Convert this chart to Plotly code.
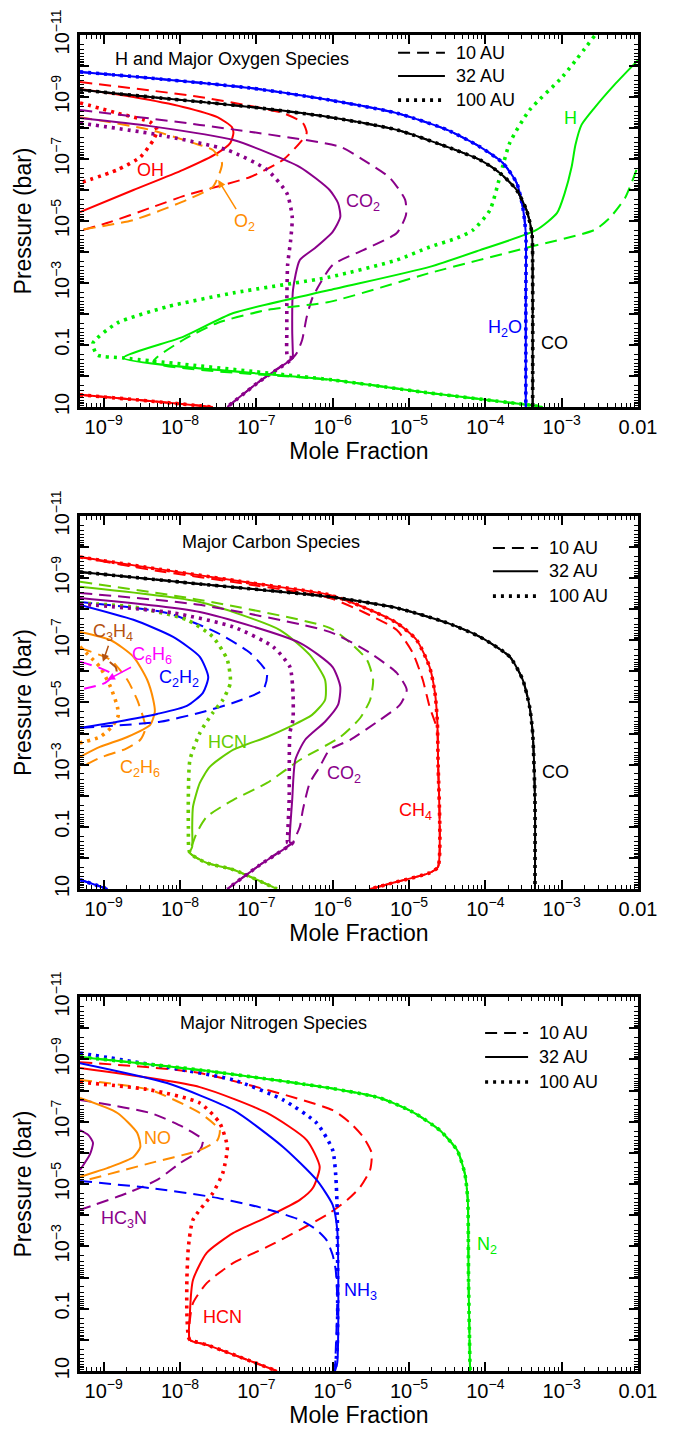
import plotly.graph_objects as go

# ------------------------------------------------------------------
# Vertical mixing-ratio profiles at 10, 32 and 100 AU.
# Each profile: list of (log10 mole fraction, log10 pressure [bar]).
# ------------------------------------------------------------------

# ---- Panel 1: H and major oxygen species ----
h2o_all = [(-9.31, -9.81), (-8.39, -9.61), (-7.08, -9.29), (-6.04, -8.90), (-5.16, -8.48),
           (-4.50, -7.94), (-4.07, -7.39), (-3.77, -6.87), (-3.59, -6.23), (-3.51, -5.45),
           (-3.47, -4.61), (-3.47, -2.45), (-3.47, 1.00)]
co_p1_all = [(-9.31, -9.23), (-8.39, -9.00), (-7.08, -8.68), (-6.04, -8.35), (-5.16, -7.94),
             (-4.50, -7.39), (-4.07, -6.97), (-3.81, -6.55), (-3.59, -6.00), (-3.46, -5.35),
             (-3.39, -4.61), (-3.38, -3.10), (-3.38, 1.00)]
oh_10 = [(-9.31, -9.48), (-7.74, -9.00), (-6.65, -8.48), (-6.39, -8.16), (-6.34, -7.84),
         (-6.43, -7.52), (-6.65, -6.97), (-7.08, -6.42), (-7.48, -6.13), (-7.91, -5.84),
         (-8.39, -5.42), (-8.91, -4.97), (-9.31, -4.68)]
oh_32 = [(-9.31, -9.26), (-8.61, -9.00), (-7.96, -8.68), (-7.51, -8.35), (-7.32, -8.03),
         (-7.30, -7.84), (-7.34, -7.52), (-7.51, -7.19), (-7.96, -6.65), (-8.61, -6.00),
         (-9.31, -5.29)]
oh_100 = [(-9.31, -8.81), (-8.82, -8.48), (-8.39, -8.19), (-8.30, -7.94), (-8.35, -7.61),
          (-8.52, -7.06), (-8.82, -6.65), (-9.31, -6.23)]
oh_deep = [(-9.31, 0.61), (-8.39, 0.81), (-7.57, 1.00)]
o2_10 = [(-9.31, -8.35), (-8.39, -7.94), (-7.83, -7.52), (-7.57, -7.29), (-7.45, -6.87),
         (-7.48, -6.55), (-7.57, -6.10), (-7.91, -5.68), (-8.61, -5.03), (-9.31, -4.71)]
co2_p1_10 = [(-9.31, -8.58), (-7.74, -8.10), (-5.90, -7.39), (-5.60, -6.97), (-5.25, -6.39),
             (-5.05, -5.68), (-5.04, -5.19), (-5.16, -4.61), (-5.60, -4.06), (-6.00, -3.58),
             (-6.26, -2.55), (-6.34, -1.90), (-6.40, -1.16), (-6.47, -0.74), (-6.52, -0.58)]
co2_p1_32 = [(-9.31, -8.32), (-8.39, -8.06), (-7.30, -7.61), (-6.43, -6.74), (-6.04, -6.00),
             (-5.93, -5.58), (-5.90, -5.13), (-6.00, -4.65), (-6.23, -4.13), (-6.43, -3.74),
             (-6.52, -2.77), (-6.53, -1.48), (-6.52, -0.61)]
co2_p1_100 = [(-9.31, -8.16), (-8.26, -7.77), (-7.38, -7.29), (-6.86, -6.65), (-6.60, -5.90),
              (-6.53, -5.13), (-6.55, -4.39), (-6.59, -3.58), (-6.60, -2.45), (-6.60, -1.48),
              (-6.59, -0.61)]
co2_p1_deep = [(-6.52, -0.58), (-6.95, 0.16), (-7.38, 1.00)]
h_10 = [(-2.02, -6.65), (-2.17, -5.74), (-2.37, -5.10), (-2.57, -4.71), (-3.42, -4.16),
        (-4.73, -3.32), (-6.04, -2.39), (-6.86, -2.13), (-7.51, -1.71), (-7.96, -1.16),
        (-8.35, -0.45)]
h_32 = [(-2.00, -10.19), (-2.31, -9.39), (-2.57, -8.65), (-2.74, -8.10), (-2.82, -7.45),
        (-2.87, -6.74), (-2.96, -5.90), (-3.06, -5.26), (-3.33, -4.71), (-4.07, -4.06),
        (-4.73, -3.52), (-6.04, -2.77), (-7.30, -2.03), (-7.96, -1.26), (-8.74, -0.58)]
h_100 = [(-2.57, -10.97), (-2.99, -9.65), (-3.42, -8.58), (-3.68, -7.52), (-3.81, -6.42),
         (-3.94, -5.35), (-4.16, -4.71), (-4.37, -4.45), (-4.73, -4.16), (-5.16, -3.74),
         (-6.04, -3.19), (-7.30, -2.68), (-8.17, -2.23), (-8.82, -1.71), (-9.14, -1.06),
         (-9.085, -0.68), (-8.74, -0.58)]
h_deep = [(-6.00, 0.13), (-4.73, 0.55), (-3.42, 0.94), (-3.25, 1.00)]

# ---- Panel 2: major carbon species ----
ch4_32_100 = [(-9.31, -9.68), (-8.39, -9.33), (-7.08, -8.85), (-6.04, -8.46), (-5.60, -8.07),
              (-5.16, -7.56), (-4.90, -7.01), (-4.73, -6.14), (-4.66, -5.31), (-4.63, -4.44),
              (-4.62, -3.15), (-4.62, 0.29), (-4.73, 0.48), (-5.16, 0.77), (-5.51, 1.00)]
ch4_10 = [(-9.31, -9.68), (-8.39, -9.27), (-7.08, -8.79), (-6.04, -8.36), (-5.60, -7.91),
          (-5.16, -7.33), (-4.95, -6.59), (-4.82, -5.73), (-4.73, -4.86), (-4.63, -4.12),
          (-4.62, -3.15), (-4.62, 0.29), (-4.73, 0.48), (-5.16, 0.77), (-5.51, 1.00)]
co_p2_all = [(-9.31, -9.20), (-7.74, -8.81), (-6.04, -8.40), (-5.16, -8.04), (-4.50, -7.56),
             (-4.07, -7.11), (-3.68, -6.47), (-3.51, -5.73), (-3.42, -4.86), (-3.38, -4.02),
             (-3.35, -1.87), (-3.35, 1.00)]
hcn_p2_10 = [(-9.31, -8.88), (-7.74, -8.30), (-6.04, -7.40), (-5.77, -6.92), (-5.55, -6.37),
             (-5.47, -5.73), (-5.51, -5.08), (-5.64, -4.50), (-5.90, -3.89), (-6.43, -3.15),
             (-6.86, -2.41), (-7.30, -1.87), (-7.65, -1.32), (-7.78, -0.81), (-7.83, -0.49),
             (-7.87, -0.16)]
hcn_p2_32 = [(-9.31, -8.72), (-7.74, -8.23), (-6.69, -7.33), (-6.30, -6.53), (-6.10, -5.73),
             (-6.10, -5.08), (-6.27, -4.60), (-6.56, -4.22), (-6.86, -3.89), (-7.30, -3.48),
             (-7.61, -2.93), (-7.74, -2.41), (-7.83, -1.64), (-7.84, -1.00), (-7.84, -0.36),
             (-7.87, -0.16)]
hcn_p2_100 = [(-9.31, -8.20), (-8.61, -8.07), (-7.91, -7.66), (-7.57, -7.11), (-7.38, -6.37),
              (-7.34, -5.63), (-7.44, -5.08), (-7.57, -4.67), (-7.74, -4.02), (-7.87, -3.15),
              (-7.89, -2.09), (-7.89, -1.00), (-7.87, -0.16)]
hcn_p2_deep = [(-7.65, 0.16), (-7.30, 0.38), (-6.73, 1.00)]
co2_p2_10 = [(-9.31, -8.52), (-7.74, -8.14), (-6.04, -7.27), (-5.51, -6.59), (-5.16, -5.95),
             (-5.03, -5.41), (-5.12, -4.92), (-5.38, -4.44), (-5.77, -3.80), (-6.04, -3.48),
             (-6.17, -2.93), (-6.30, -2.41), (-6.39, -1.55), (-6.43, -1.00), (-6.52, -0.49)]
co2_p2_32 = [(-9.31, -8.36), (-7.74, -7.91), (-6.43, -6.92), (-6.00, -6.14), (-5.90, -5.50),
             (-5.93, -4.92), (-6.10, -4.38), (-6.36, -3.80), (-6.49, -3.15), (-6.53, -1.87),
             (-6.56, -0.81), (-6.56, -0.49)]
co2_p2_100 = [(-9.31, -8.17), (-8.09, -7.88), (-7.30, -7.43), (-6.78, -6.79), (-6.56, -6.14),
              (-6.52, -5.31), (-6.52, -4.44), (-6.56, -4.02), (-6.57, -1.87), (-6.59, -0.68),
              (-6.59, -0.49)]
co2_p2_deep = [(-6.52, -0.49), (-6.95, 0.22), (-7.38, 1.00)]
c2h2_10 = [(-9.31, -8.23), (-8.17, -7.88), (-7.51, -7.24), (-7.08, -6.59), (-6.86, -5.95),
           (-6.91, -5.41), (-7.30, -4.99), (-7.74, -4.67), (-8.26, -4.38), (-8.88, -4.25),
           (-9.31, -4.18)]
c2h2_32 = [(-9.31, -8.14), (-8.61, -7.66), (-8.09, -7.11), (-7.74, -6.47), (-7.63, -5.82),
           (-7.70, -5.31), (-7.91, -4.89), (-8.30, -4.63), (-8.82, -4.38), (-9.31, -4.18)]
c2h2_deep = [(-9.31, 0.70), (-8.95, 1.00)]
c2h6_10 = [(-9.31, -6.75), (-8.91, -6.37), (-8.69, -5.73), (-8.56, -5.08), (-8.48, -4.50),
           (-8.45, -4.18), (-8.52, -3.80), (-8.71, -3.51), (-9.05, -3.22), (-9.31, -2.90)]
c2h6_32 = [(-9.31, -7.27), (-8.91, -7.01), (-8.61, -6.47), (-8.43, -5.73), (-8.35, -5.08),
           (-8.33, -4.70), (-8.39, -4.28), (-8.69, -3.89), (-9.05, -3.57), (-9.31, -3.25)]
c2h6_100 = [(-9.31, -6.79), (-9.05, -6.14), (-8.91, -5.50), (-8.82, -4.86), (-8.81, -4.57),
            (-8.89, -4.22), (-9.05, -3.89), (-9.31, -3.70)]
c3h4_10 = [(-8.92, -6.30), (-8.84, -6.12), (-8.83, -5.95), (-8.90, -5.80)]
c6h6_10 = [(-9.31, -6.31), (-9.05, -6.11), (-8.88, -5.89), (-8.98, -5.63), (-9.31, -5.41)]

# ---- Panel 3: major nitrogen species ----
n2_all = [(-9.31, -9.08), (-7.74, -8.66), (-6.04, -8.08), (-5.38, -7.76), (-4.95, -7.31),
          (-4.60, -6.73), (-4.37, -6.09), (-4.27, -5.35), (-4.23, -4.49), (-4.22, -1.92),
          (-4.20, 1.00)]
nh3_10 = [(-9.31, -5.10), (-8.39, -4.87), (-7.57, -4.58), (-7.08, -4.33), (-6.73, -4.10),
          (-6.43, -3.85), (-6.21, -3.53), (-6.08, -3.20), (-6.00, -2.72), (-5.96, -2.24),
          (-5.94, -1.28), (-5.97, 1.00)]
nh3_32 = [(-9.31, -8.88), (-8.17, -8.24), (-7.30, -7.37), (-6.65, -6.19), (-6.21, -5.13),
          (-6.00, -4.33), (-5.94, -3.53), (-5.94, 0.74), (-5.97, 1.00)]
nh3_100 = [(-9.31, -9.20), (-8.17, -8.75), (-7.30, -8.34), (-6.65, -7.70), (-6.21, -6.96),
           (-6.00, -6.09), (-5.96, -5.29), (-5.94, -4.07), (-5.94, 0.23), (-5.97, 1.00)]
hcn_p3_10 = [(-9.31, -8.91), (-7.74, -8.56), (-6.00, -7.37), (-5.77, -6.96), (-5.60, -6.51),
             (-5.49, -6.00), (-5.51, -5.45), (-5.64, -4.90), (-5.81, -4.49), (-6.04, -4.07),
             (-6.43, -3.53), (-6.86, -2.98), (-7.30, -2.47), (-7.65, -1.82), (-7.83, -1.18),
             (-7.87, -0.64), (-7.87, 0.00)]
hcn_p3_32 = [(-9.31, -8.72), (-7.74, -8.11), (-6.86, -7.28), (-6.34, -6.41), (-6.17, -5.55),
             (-6.26, -4.87), (-6.43, -4.49), (-6.86, -3.94), (-7.30, -3.43), (-7.65, -2.79),
             (-7.83, -1.92), (-7.87, -0.86), (-7.87, 0.00)]
hcn_p3_100 = [(-9.31, -8.27), (-8.39, -8.02), (-7.74, -7.60), (-7.48, -6.96), (-7.38, -6.19),
              (-7.44, -5.35), (-7.57, -4.71), (-7.83, -3.85), (-7.89, -2.98), (-7.91, -1.92),
              (-7.91, -0.86), (-7.89, -0.09), (-7.87, 0.00)]
hcn_p3_deep = [(-7.65, 0.16), (-6.73, 1.00)]
no_10 = [(-9.31, -8.34), (-8.39, -8.02), (-7.74, -7.28), (-7.48, -6.73), (-7.51, -6.41),
         (-7.74, -6.09), (-8.39, -5.67), (-9.31, -5.07)]
no_32 = [(-9.31, -7.76), (-8.82, -7.28), (-8.56, -6.64), (-8.52, -6.19), (-8.61, -5.87),
         (-8.91, -5.55), (-9.31, -5.23)]
hc3n_10 = [(-9.31, -7.70), (-8.39, -7.28), (-7.96, -6.83), (-7.70, -6.41), (-7.74, -6.09),
           (-8.00, -5.67), (-8.30, -5.13), (-8.69, -4.71), (-9.31, -4.17)]
hc3n_32 = [(-9.31, -6.73), (-9.20, -6.57), (-9.14, -6.32), (-9.18, -5.95), (-9.31, -5.45)]

# ---- axis ticks ----
x_tick_exp = [-9, -8, -7, -6, -5, -4, -3, -2]
x_tick_text = ["10<sup>\u22129</sup>", "10<sup>\u22128</sup>", "10<sup>\u22127</sup>",
               "10<sup>\u22126</sup>", "10<sup>\u22125</sup>", "10<sup>\u22124</sup>",
               "10<sup>\u22123</sup>", "0.01"]
y_tick_exp = list(range(-11, 2))
y_tick_text = ["10<sup>\u221211</sup>", "", "10<sup>\u22129</sup>", "", "10<sup>\u22127</sup>", "",
               "10<sup>\u22125</sup>", "", "10<sup>\u22123</sup>", "", "0.1", "", "10"]

# ---- colours and line styles ----
RED, BLUE, BLACK = "#ff0000", "#0000ff", "#000000"
GREEN, GREEN2 = "#00ee00", "#66cc00"
PURPLE, ORANGE = "#8a008a", "#ff8c00"
BROWN, MAGENTA = "#b5520f", "#ff00ff"
STYLES = {
    "10": dict(dash="12px,7px", width=2),
    "32": dict(dash="solid", width=2),
    "100": dict(dash="3px,5px", width=3.6),
}
FONT = "Liberation Sans, Arial, Helvetica, sans-serif"

fig = go.Figure()


def add(panel, pts, color, case):
    sfx = "" if panel == 1 else str(panel)
    fig.add_trace(go.Scatter(
        x=[10 ** a for a, _ in pts], y=[10 ** b for _, b in pts],
        mode="lines", line=dict(color=color, shape="spline", smoothing=0.6, **STYLES[case]),
        xaxis="x" + sfx, yaxis="y" + sfx, showlegend=False, hoverinfo="skip"))


def add_all(panel, pts, color):
    for case in ("32", "10", "100"):
        add(panel, pts, color, case)


# Panel 1
add_all(1, oh_deep, RED)
add(1, oh_10, RED, "10"); add(1, oh_32, RED, "32"); add(1, oh_100, RED, "100")
add(1, o2_10, ORANGE, "10")
add(1, co2_p1_10 + co2_p1_deep, PURPLE, "10")
add(1, co2_p1_32 + co2_p1_deep, PURPLE, "32")
add(1, co2_p1_100 + co2_p1_deep, PURPLE, "100")
add(1, h_10 + h_deep, GREEN, "10")
add(1, h_32 + h_deep, GREEN, "32")
add(1, h_100 + h_deep, GREEN, "100")
add_all(1, h2o_all, BLUE)
add_all(1, co_p1_all, BLACK)

# Panel 2
add_all(2, c2h2_deep, BLUE)
add(2, c2h6_10, ORANGE, "10"); add(2, c2h6_32, ORANGE, "32"); add(2, c2h6_100, ORANGE, "100")
add(2, c3h4_10, BROWN, "10")
add(2, c6h6_10, MAGENTA, "10")
add(2, c2h2_10, BLUE, "10"); add(2, c2h2_32, BLUE, "32")
add(2, hcn_p2_10 + hcn_p2_deep, GREEN2, "10")
add(2, hcn_p2_32 + hcn_p2_deep, GREEN2, "32")
add(2, hcn_p2_100 + hcn_p2_deep, GREEN2, "100")
add(2, co2_p2_10 + co2_p2_deep, PURPLE, "10")
add(2, co2_p2_32 + co2_p2_deep, PURPLE, "32")
add(2, co2_p2_100 + co2_p2_deep, PURPLE, "100")
add(2, ch4_10, RED, "10")
add(2, ch4_32_100, RED, "32"); add(2, ch4_32_100, RED, "100")
add_all(2, co_p2_all, BLACK)

# Panel 3
add(3, hc3n_10, PURPLE, "10"); add(3, hc3n_32, PURPLE, "32")
add(3, no_10, ORANGE, "10"); add(3, no_32, ORANGE, "32")
add(3, hcn_p3_10 + hcn_p3_deep, RED, "10")
add(3, hcn_p3_32 + hcn_p3_deep, RED, "32")
add(3, hcn_p3_100 + hcn_p3_deep, RED, "100")
add(3, nh3_10, BLUE, "10"); add(3, nh3_32, BLUE, "32"); add(3, nh3_100, BLUE, "100")
add_all(3, n2_all, GREEN)

# ---- axes ----
x_minor = [m * 10.0 ** e for e in range(-10, -2) for m in range(2, 10)]
y_minor = [m * 10.0 ** e for e in range(-11, 1) for m in range(2, 10)]


def xaxis(anchor):
    return dict(
        type="log", range=[-9.31, -2.0], domain=[0, 1], anchor=anchor,
        showline=True, linecolor="black", linewidth=2.5, mirror="allticks",
        ticks="inside", ticklen=9, tickwidth=1.5, tickcolor="black",
        tickvals=[10.0 ** e for e in x_tick_exp], ticktext=x_tick_text,
        tickfont=dict(size=20, color="black", family=FONT),
        minor=dict(ticks="inside", ticklen=4.5, tickwidth=1, tickcolor="black",
                   tickvals=x_minor, showgrid=False),
        showgrid=False, zeroline=False, automargin=False,
        title=dict(text="Mole Fraction", font=dict(size=23, color="black", family=FONT),
                   standoff=6))


def yaxis(anchor, dom):
    return dict(
        type="log", range=[1, -11], domain=dom, anchor=anchor,
        showline=True, linecolor="black", linewidth=2.5, mirror="allticks",
        ticks="inside", ticklen=9, tickwidth=1.5, tickcolor="black",
        tickvals=[10.0 ** e for e in y_tick_exp], ticktext=y_tick_text, tickangle=-90,
        tickfont=dict(size=20, color="black", family=FONT),
        minor=dict(ticks="inside", ticklen=4.5, tickwidth=1, tickcolor="black",
                   tickvals=y_minor, showgrid=False),
        showgrid=False, zeroline=False, automargin=False,
        title=dict(text="Pressure (bar)", font=dict(size=23, color="black", family=FONT),
                   standoff=10))


fig.update_layout(
    width=673, height=1429,
    margin=dict(l=80, r=35, t=35, b=58, pad=0),
    paper_bgcolor="white", plot_bgcolor="white",
    font=dict(family=FONT, color="black"),
    xaxis=xaxis("y"), yaxis=yaxis("x", [0.7216, 1.0]),
    xaxis2=xaxis("y2"), yaxis2=yaxis("x2", [0.3608, 0.6400]),
    xaxis3=xaxis("y3"), yaxis3=yaxis("x3", [0.0, 0.2799]),
)

# ---- panel titles and style key ----
panel_titles = ["H and Major Oxygen Species", "Major Carbon Species", "Major Nitrogen Species"]
title_pos = [(0.059, 0.936), (0.179, 0.930), (0.176, 0.930)]
key_x = [(0.570, 0.654), (0.740, 0.821), (0.726, 0.803)]
key_y = [(0.952, 0.890, 0.825), (0.914, 0.852, 0.785), (0.904, 0.840, 0.773)]
key_labels = ["10 AU", "32 AU", "100 AU"]
key_dash = ["12px,7px", "solid", "3px,5px"]
key_width = [2, 2, 3.6]

annotations = []
shapes = []
for i in range(3):
    sfx = "" if i == 0 else str(i + 1)
    xr, yr = "x" + sfx + " domain", "y" + sfx + " domain"
    annotations.append(dict(text=panel_titles[i], x=title_pos[i][0], y=title_pos[i][1],
                            xref=xr, yref=yr, xanchor="left", yanchor="middle",
                            showarrow=False, font=dict(size=18, color="black")))
    for k in range(3):
        shapes.append(dict(type="line", xref=xr, yref=yr,
                           x0=key_x[i][0], x1=key_x[i][1], y0=key_y[i][k], y1=key_y[i][k],
                           line=dict(color="black", width=key_width[k], dash=key_dash[k])))
        annotations.append(dict(text=key_labels[k], x=key_x[i][1] + 0.016, y=key_y[i][k],
                                xref=xr, yref=yr, xanchor="left", yanchor="middle",
                                showarrow=False, font=dict(size=18, color="black")))


def label(panel, text, lx, lp, color, **kw):
    sfx = "" if panel == 1 else str(panel)
    d = dict(text=text, x=lx, y=lp, xref="x" + sfx, yref="y" + sfx,
             xanchor="center", yanchor="middle", showarrow=False,
             font=dict(size=18, color=color))
    d.update(kw)
    annotations.append(d)


# species labels (positions in log10 units)
label(1, "OH", -8.39, -6.65, RED)
label(1, "O<sub>2</sub>", -7.50, -6.32, ORANGE, showarrow=True, ax=26, ay=42,
      arrowcolor=ORANGE, arrowhead=2, arrowwidth=1.5, arrowsize=1)
label(1, "CO<sub>2</sub>", -5.60, -5.58, PURPLE)
label(1, "H", -2.89, -8.32, GREEN)
label(1, "H<sub>2</sub>O", -3.74, -1.52, BLUE)
label(1, "CO", -3.09, -1.06, BLACK)

label(2, "C<sub>3</sub>H<sub>4</sub>", -9.01, -6.31, BROWN, showarrow=True, ax=10, ay=-29,
      arrowcolor=BROWN, arrowhead=2, arrowwidth=1.5, arrowsize=1)
label(2, "C<sub>6</sub>H<sub>6</sub>", -8.95, -5.73, MAGENTA, showarrow=True, ax=45, ay=-24,
      arrowcolor=MAGENTA, arrowhead=2, arrowwidth=1.5, arrowsize=1)
label(2, "C<sub>2</sub>H<sub>2</sub>", -8.01, -5.76, BLUE)
label(2, "HCN", -7.38, -3.73, GREEN2)
label(2, "C<sub>2</sub>H<sub>6</sub>", -8.52, -2.86, ORANGE)
label(2, "CO<sub>2</sub>", -5.85, -2.67, PURPLE)
label(2, "CH<sub>4</sub>", -4.92, -1.48, RED)
label(2, "CO", -3.08, -2.77, BLACK)

label(3, "NO", -8.30, -6.48, ORANGE)
label(3, "HC<sub>3</sub>N", -8.74, -3.85, PURPLE)
label(3, "HCN", -7.44, -0.73, RED)
label(3, "NH<sub>3</sub>", -5.63, -1.54, BLUE)
label(3, "N<sub>2</sub>", -3.98, -3.04, GREEN)

fig.update_layout(annotations=annotations, shapes=shapes)
fig.write_html("out.html")
